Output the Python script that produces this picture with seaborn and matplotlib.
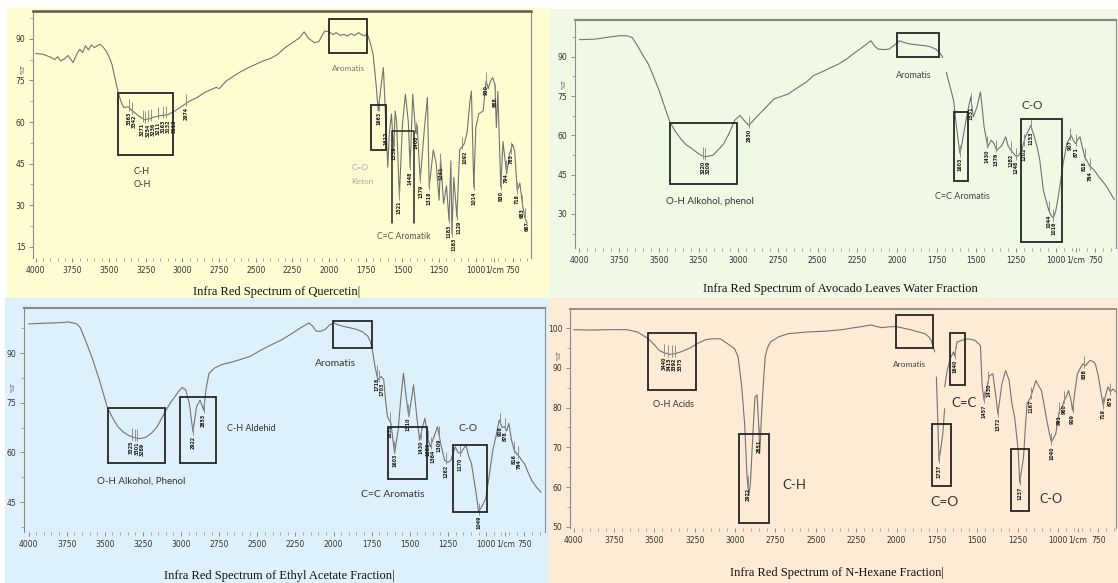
import numpy as np
import pandas as pd
import matplotlib
matplotlib.use("Agg")
import matplotlib.pyplot as plt
from matplotlib.patches import Rectangle
from matplotlib.ticker import AutoMinorLocator, MultipleLocator
import seaborn as sns

W, H = 1118, 583

# ---------------- data ----------------
# Quercetin
q_wn = [4000, 3950, 3900, 3870, 3850, 3830, 3800, 3780, 3760, 3745, 3720, 3700, 3680, 3660, 3640, 3620,
        3600, 3580, 3560, 3540, 3520, 3500, 3480, 3460, 3440, 3420, 3400, 3370, 3340, 3300, 3260, 3230,
        3200, 3150, 3100, 3050, 3000, 2950, 2900, 2850, 2800, 2770, 2750, 2700, 2650, 2600, 2550, 2500,
        2450, 2400, 2350, 2300, 2250, 2200, 2170, 2140, 2100, 2070, 2030, 2000, 1975, 1950, 1925, 1900,
        1875, 1850, 1825, 1800, 1780, 1760, 1740, 1720, 1700, 1680, 1665, 1650, 1630, 1612, 1600, 1590,
        1575, 1560, 1550, 1540, 1521, 1500, 1480, 1460, 1448, 1430, 1410, 1400, 1379, 1350, 1330, 1318,
        1290, 1270, 1250, 1240, 1220, 1200, 1183, 1170, 1163, 1150, 1129, 1110, 1080, 1060, 1040, 1030,
        1014, 1000, 980, 950, 930, 915, 900, 885, 870, 860, 850, 830, 815, 790, 770, 750, 735, 718, 700,
        683, 667, 650]
q_t = [84.7, 84.4, 83.4, 82.5, 83.5, 82.0, 82.9, 84.0, 82.5, 81.4, 84.5, 86.2, 85.0, 87.5, 86.0, 87.8,
       86.8, 87.5, 88.0, 87.0, 85.6, 83.5, 80.8, 76.0, 71.2, 67.6, 65.2, 65.5, 64.0, 62.3, 60.8, 61.1,
       61.7, 62.3, 62.6, 64.0, 65.8, 67.6, 68.8, 70.6, 71.8, 72.5, 72.0, 74.8, 76.6, 78.2, 79.6, 80.8,
       82.0, 82.9, 84.4, 86.8, 88.6, 90.4, 92.5, 90.1, 88.6, 89.0, 92.8, 92.5, 91.5, 92.2, 91.2, 91.6,
       91.0, 91.8, 91.2, 92.2, 91.5, 91.0, 91.8, 88.6, 84.4, 73.6, 64.0, 71.2, 79.6, 58.1, 43.7, 55.7,
       62.9, 49.7, 64.0, 60.0, 33.0, 59.3, 70.0, 60.0, 43.7, 70.0, 56.0, 59.0, 39.0, 58.0, 68.8, 36.5,
       50.0, 45.0, 31.8, 47.0, 30.5, 37.0, 24.6, 46.0, 19.8, 40.0, 25.8, 50.0, 52.0, 56.0, 67.6, 71.2,
       36.5, 58.0, 63.0, 64.0, 74.8, 72.0, 74.8, 76.0, 73.5, 58.0, 71.0, 36.5, 53.0, 41.3, 48.5, 52.0,
       49.5, 35.3, 38.0, 30.5, 25.8, 23.5]
q_peaks = [3363, 3342, 3271, 3254, 3236, 3211, 3163, 3132, 3113, 2974, 1663, 1612, 1558, 1521, 1448,
           1408, 1379, 1318, 1241, 1183, 1163, 1129, 1092, 1014, 930, 868, 830, 794, 763, 718, 683, 667]

# Avocado leaves water fraction
a_wn = [4000, 3900, 3800, 3747, 3701, 3668, 3634, 3600, 3566, 3530, 3498, 3464, 3430, 3396, 3362, 3330,
        3294, 3250, 3215, 3190, 3159, 3125, 3091, 3055, 3023, 2989, 2960, 2933, 2900, 2865, 2820, 2774,
        2730, 2684, 2630, 2571, 2525, 2480, 2435, 2400, 2367, 2320, 2277, 2220, 2164, 2140, 2118, 2080,
        2050, 2015, 1983, 1960, 1915, 1870, 1824, 1790, 1756, 1730, 1711, 1700,
        1689, 1665, 1643, 1625, 1603, 1590, 1576, 1553, 1535, 1519, 1496, 1474, 1462, 1451, 1428, 1406,
        1390, 1372, 1340, 1315, 1300, 1282, 1247, 1230, 1214, 1191, 1170, 1157, 1134, 1115, 1100, 1078,
        1060, 1044, 1030, 1015, 1000, 987, 970, 953, 930, 903, 888, 874, 860, 847, 830, 818, 800, 784,
        770, 750, 720, 693, 670, 648, 630]
a_t = [96.5, 96.7, 97.6, 98.0, 98.0, 97.3, 94.2, 90.5, 87.2, 82.0, 77.1, 71.0, 65.0, 61.5, 58.7, 56.5,
       55.0, 53.0, 51.8, 52.0, 52.4, 54.5, 56.8, 61.0, 65.7, 67.6, 65.5, 63.8, 66.0, 68.2, 71.0, 73.9,
       74.8, 75.8, 78.0, 80.3, 82.8, 84.0, 85.3, 86.3, 87.2, 89.0, 91.0, 93.5, 96.1, 94.0, 92.9, 92.7,
       92.9, 94.5, 96.1, 95.5, 94.8, 94.5, 94.2, 93.8, 92.9, 91.5, 89.7, np.nan,
       84.0, 78.5, 73.3, 63.2, 53.0, 57.0, 61.9, 69.5, 74.6, 67.0, 70.8, 76.5, 70.0, 63.2, 55.6, 58.1,
       57.0, 54.3, 56.0, 59.4, 56.0, 54.3, 51.8, 52.5, 54.3, 59.4, 62.0, 63.8, 59.4, 55.0, 50.5, 39.1,
       35.0, 31.5, 29.5, 28.4, 31.0, 35.3, 42.0, 49.2, 56.8, 60.0, 58.0, 56.8, 58.5, 59.4, 55.0, 51.8,
       50.0, 48.0, 47.5, 46.1, 43.5, 41.6, 39.5, 37.2, 35.5]
a_peaks = [3220, 3209, 2930, 1603, 1531, 1430, 1376, 1282, 1248, 1202, 1153, 1044, 1016, 907, 871, 818, 784]

# Ethyl acetate fraction
e_wn = [4000, 3900, 3836, 3780, 3742, 3700, 3684, 3660, 3620, 3579, 3530, 3485, 3450, 3415, 3380, 3345,
        3315, 3286, 3255, 3227, 3190, 3157, 3125, 3098, 3070, 3040, 3015, 2993, 2970, 2946, 2922, 2899,
        2876, 2852, 2837, 2817, 2780, 2735, 2650, 2548, 2480, 2408, 2340, 2267, 2210, 2162, 2135, 2115,
        2085, 2057, 2025, 1998, 1970, 1940, 1890, 1846, 1810, 1776, 1760, 1748, 1729, 1710, 1698, 1687,
        1671, 1660, 1647, 1624, 1600, 1590, 1577, 1560, 1542, 1525, 1507, 1490, 1476, 1455, 1436, 1418,
        1401, 1385, 1366, 1340, 1319, 1295, 1272, 1250, 1232, 1202, 1185, 1167, 1150, 1132, 1115, 1096,
        1070, 1049, 1025, 1003, 980, 956, 935, 914, 895, 881, 865, 851, 835, 816, 798, 781, 765, 748,
        725, 701, 670, 640]
e_t = [98.8, 99.0, 99.1, 99.2, 99.4, 99.0, 98.8, 97.6, 93.0, 88.0, 81.0, 73.8, 70.5, 67.8, 66.2, 65.2,
       64.6, 64.2, 64.3, 64.7, 66.0, 67.8, 70.5, 72.8, 75.0, 76.9, 78.5, 79.6, 78.9, 74.8, 66.2, 73.8,
       75.8, 72.8, 79.0, 83.9, 85.5, 86.5, 87.5, 89.0, 90.8, 92.5, 94.0, 96.1, 97.8, 99.1, 98.0, 96.6,
       96.6, 97.1, 98.5, 99.1, 98.5, 98.1, 97.6, 97.1, 96.4, 95.1, 93.5, 91.5, 86.0, 81.9, 82.5, 82.9,
       81.9, 76.0, 70.8, 68.8, 59.7, 63.0, 66.7, 76.0, 83.9, 77.0, 70.8, 76.0, 80.4, 71.0, 63.7, 67.5,
       70.3, 65.0, 61.7, 65.0, 67.8, 62.0, 57.6, 57.0, 57.6, 61.7, 60.0, 59.7, 61.0, 62.2, 59.0, 56.6,
       49.0, 42.0, 44.0, 46.0, 53.0, 60.7, 65.0, 69.8, 67.5, 67.8, 66.5, 68.8, 64.0, 60.7, 59.5, 58.7,
       57.5, 56.6, 54.0, 51.6, 49.5, 48.0]
e_peaks = [3325, 3301, 3289, 2922, 2853, 1718, 1703, 1632, 1603, 1510, 1430, 1380, 1364, 1309, 1262,
           1170, 1049, 908, 878, 816, 794]

# N-hexane fraction
h_wn = [4000, 3900, 3782, 3671, 3604, 3537, 3500, 3471, 3440, 3404, 3370, 3337, 3300, 3270, 3225, 3181,
        3140, 3092, 3070, 3048, 3020, 3003, 2981, 2959, 2941, 2926, 2915, 2905, 2897, 2885, 2877, 2864,
        2852, 2848, 2843, 2837, 2825, 2814, 2800, 2781, 2730, 2670, 2559, 2447, 2336, 2280, 2225, 2158,
        2125, 2091, 2050, 2003, 1960, 1914, 1870, 1825, 1800, 1785, 1763, 1758,
        1753, 1745, 1737, 1728, 1713, 1702, 1702,
        1702, 1685, 1665, 1647, 1640, 1625, 1590, 1558, 1513, 1480, 1469, 1457, 1445, 1425, 1403, 1385,
        1372, 1360, 1347, 1324, 1302, 1285, 1268, 1246, 1237, 1228, 1213, 1200, 1191, 1169, 1150, 1136,
        1120, 1102, 1085, 1069, 1050, 1040, 1025, 1013, 1000, 990, 975, 961, 945, 934, 920, 909, 895,
        879, 860, 846, 830, 801, 780, 768, 750, 735, 719, 705, 690, 675, 657, 640]
h_t = [99.6, 99.5, 99.6, 99.6, 99.0, 97.3, 95.8, 94.4, 93.8, 93.4, 93.6, 94.0, 94.6, 95.2, 96.3, 97.1,
       97.3, 97.3, 96.7, 96.1, 95.3, 94.8, 92.7, 85.2, 75.9, 62.5, 57.9, 61.0, 67.5, 77.0, 82.6, 83.2,
       74.3, 68.4, 72.0, 77.6, 86.0, 92.7, 95.0, 96.5, 97.8, 98.6, 99.0, 99.2, 99.6, 100.0, 100.3, 100.8,
       100.4, 100.1, 100.3, 100.4, 100.0, 99.6, 99.1, 98.6, 97.8, 96.9, 94.0, np.nan,
       87.7, 78.0, 66.7, 69.0, 73.4, 79.7, np.nan,
       85.2, 89.5, 92.5, 94.0, 93.0, 96.5, 97.0, 97.3, 96.9, 95.6, 85.2, 81.8, 84.0, 88.0, 88.5, 83.0,
       78.4, 82.0, 86.0, 89.3, 86.8, 81.0, 77.6, 69.2, 61.2, 63.5, 67.5, 76.0, 81.0, 82.6, 85.0, 86.8,
       85.5, 84.3, 80.5, 76.8, 73.0, 71.3, 72.5, 73.4, 77.0, 79.3, 80.0, 81.8, 83.0, 84.3, 82.0, 79.3,
       84.0, 88.5, 90.0, 91.0, 90.5, 91.9, 91.5, 91.0, 88.0, 84.3, 80.5, 83.0, 85.2, 84.0, 84.7, 83.9]
h_peaks = [3440, 3415, 3392, 3375, 2922, 2851, 1737, 1640, 1457, 1430, 1372, 1237, 1167, 1040, 991,
           960, 909, 838, 719, 675]

# ---------------- style ----------------
sns.set_theme(style="white")
plt.rcParams['font.family'] = ['DejaVu Sans']

LINE = '#737373'
BOX = '#262626'
ANN_FONT = ['Lato', 'DejaVu Sans']
LABEL_GAP = 5.2  # px between neighbouring peak labels

fig = plt.figure(figsize=(W / 100, H / 100), dpi=100)


def frac(x0, y0, x1, y1):
    return [x0 / W, 1 - y1 / H, (x1 - x0) / W, (y1 - y0) / H]


# panel backgrounds
for x0, y0, x1, y1, c in [(7, 8, 549, 298, '#FEFDD2'), (549, 9, 1118, 298, '#EFF9E3'),
                          (5, 298, 549, 583, '#DEF1FB'), (549, 298, 1118, 583, '#FDEBD5')]:
    l, b, w, h = frac(x0, y0, x1, y1)
    fig.add_artist(Rectangle((l, b), w, h, transform=fig.transFigure, color=c, lw=0, zorder=-10))


def panel(px, wn, t, xlim, ylim, ymajor, peaks, title, title_px, pct_y, boxes, notes,
          top_c='#5a5a4a', top_w=1.8):
    ax = fig.add_axes(frac(*px))
    ax.patch.set_alpha(0)

    df = pd.DataFrame({'wn': wn, 't': t})
    df['seg'] = df['t'].isna().cumsum()
    df = df.dropna()
    sns.lineplot(data=df, x='wn', y='t', units='seg', estimator=None, sort=False,
                 color=LINE, lw=0.8, ax=ax, legend=False)

    ax.set_xlim(*xlim)
    ax.set_ylim(*ylim)
    ax.set_xlabel('')
    ax.set_ylabel('')

    xt = list(range(4000, 999, -250)) + [875, 750]
    ax.set_xticks(xt)
    ax.set_xticklabels([str(v) for v in xt[:-2]] + ['1/cm', '750'])
    ax.xaxis.set_minor_locator(MultipleLocator(50))
    ax.yaxis.set_major_locator(MultipleLocator(ymajor))
    ax.yaxis.set_minor_locator(AutoMinorLocator(2))
    ax.tick_params(axis='both', which='major', labelsize=5.5, labelcolor='#333333',
                   color='#8a8a8a', length=3, width=0.7, pad=2.5, left=True, bottom=True)
    ax.tick_params(axis='both', which='minor', color='#9a9a9a', length=2, width=0.6,
                   left=True, bottom=True)

    for s in ['left', 'right']:
        ax.spines[s].set_color('#8c8c8c')
        ax.spines[s].set_linewidth(0.8)
    ax.spines['top'].set_color(top_c)
    ax.spines['top'].set_linewidth(top_w)
    ax.spines['bottom'].set_visible(False)

    ax.text(-0.02, pct_y, '%T', transform=ax.get_yaxis_transform(), rotation=90,
            fontsize=4.5, color='#444444', ha='center', va='center')

    # peak marks and labels (labels nudged apart so they don't sit on top of each other)
    u = (ylim[1] - ylim[0]) / (px[3] - px[1])   # %T per pixel
    wpx = (xlim[0] - xlim[1]) / (px[2] - px[0])  # 1/cm per pixel
    xs = np.array(wn)[::-1]
    ys = pd.Series(t).interpolate().to_numpy()[::-1]
    order = sorted(peaks, reverse=True)
    lab_x = []
    for p in order:
        x = p if not lab_x else min(p, lab_x[-1] - LABEL_GAP * wpx)
        lab_x.append(x)
    for p, lx in zip(order, lab_x):
        yv = np.interp(p, xs, ys)
        ax.vlines(p, yv - 3 * u, yv + 9 * u, color='#8f8f8f', lw=0.7)
        ax.text(lx, yv - 4 * u, str(p), rotation=90, fontsize=3.4, fontweight='bold',
                color='#1a1a1a', ha='center', va='top')

    for b in boxes:
        if len(b) == 5:  # open bracket
            x0, x1, y0, y1, _ = b
            ax.plot([x0, x0, x1, x1], [y0, y1, y1, y0], color=BOX, lw=1.1)
        else:
            x0, x1, y0, y1 = b
            ax.add_patch(Rectangle((x0, y0), x1 - x0, y1 - y0, fill=False, ec=BOX, lw=1.3, zorder=3))

    for x, y, s, fs, c in notes:
        ax.text(x, y, s, fontsize=fs, color=c, ha='center', va='center', family=ANN_FONT)

    fig.text(title_px[0] / W, 1 - title_px[1] / H, title, ha='center', va='center',
             fontsize=9, family=['Liberation Serif', 'DejaVu Serif'], color='#111111')
    return ax


panel((33, 11, 531, 258), q_wn, q_t, (4018, 624), (11, 100), 15, q_peaks,
      'Infra Red Spectrum of Quercetin|', (277, 292), 79,
      [(3440, 3063, 48.1, 70.4), (2002, 1741, 85.0, 97.2), (1717, 1615, 49.9, 66.2),
       (1573, 1420, 23.6, 56.6, 'open')],
      [(3277, 42.3, 'C-H', 6.5, '#333333'), (3275, 37.5, 'O-H', 6.5, '#333333'),
       (1870, 79.4, 'Aromatis', 6, '#777777'), (1790, 43.7, 'C=O', 6, '#a8a8a8'),
       (1772, 38.5, 'Keton', 6, '#a8a8a8'), (1493, 18.6, 'C=C Aromatik', 6.2, '#555555')])

panel((575, 20, 1116, 248), a_wn, a_t, (4028, 620), (17, 104), 15, a_peaks,
      'Infra Red Spectrum of Avocado Leaves Water Fraction', (840, 289), 79.7,
      [(3430, 3005, 41.6, 64.8), (2001, 1734, 89.7, 98.9), (1643, 1553, 42.5, 68.9),
       (1218, 958, 19.1, 66.1)],
      [(3181, 34.7, 'O-H Alkohol, phenol', 7, '#333333'), (1892, 82.8, 'Aromatis', 6.5, '#444444'),
       (1587, 36.6, 'C=C Aromatis', 6.5, '#444444'), (1146, 71.4, 'C-O', 8.5, '#333333')],
      top_c='#8a8a8a', top_w=1.6)

panel((24, 308, 545, 532), e_wn, e_t, (4030, 614), (36, 103.6), 15, e_peaks,
      'Infra Red Spectrum of Ethyl Acetate Fraction|', (279, 576), 79.7,
      [(3478, 3106, 56.8, 73.5), (3005, 2768, 56.8, 76.7), (2003, 1747, 91.5, 99.6),
       (1642, 1389, 52.1, 67.8), (1218, 996, 42.0, 62.4)],
      [(3262, 51.4, 'O-H Alkohol, Phenol', 7, '#333333'), (2537, 67.2, 'C-H Aldehid', 6.5, '#333333'),
       (1986, 87.0, 'Aromatis', 7.5, '#333333'), (1612, 47.3, 'C=C Aromatis', 7.5, '#333333'),
       (1120, 67.2, 'C-O', 7.5, '#333333')],
      top_c='#8a8a8a', top_w=1.6)

panel((570, 309, 1116, 528), h_wn, h_t, (4023, 640), (49.7, 104.8), 10, h_peaks,
      'Infra Red Spectrum of N-Hexane Fraction|', (837, 573), 93.2,
      [(3537, 3244, 84.5, 98.7), (2977, 2790, 50.9, 73.4), (2002, 1773, 95.0, 103.4),
       (1780, 1664, 60.2, 75.8), (1669, 1575, 85.6, 98.7), (1291, 1179, 53.9, 69.6)],
      [(3382, 80.8, 'O-H Acids', 6.5, '#333333'), (2636, 60.4, 'C-H', 9.5, '#333333'),
       (1918, 90.9, 'Aromatis', 6, '#444444'), (1702, 56.2, 'C=O', 10, '#333333'),
       (1580, 81.1, 'C=C', 9.5, '#333333'), (1046, 57.1, 'C-O', 9, '#333333')],
      top_c='#8a8a8a', top_w=1.3)

fig.savefig('out.png', dpi=100)
